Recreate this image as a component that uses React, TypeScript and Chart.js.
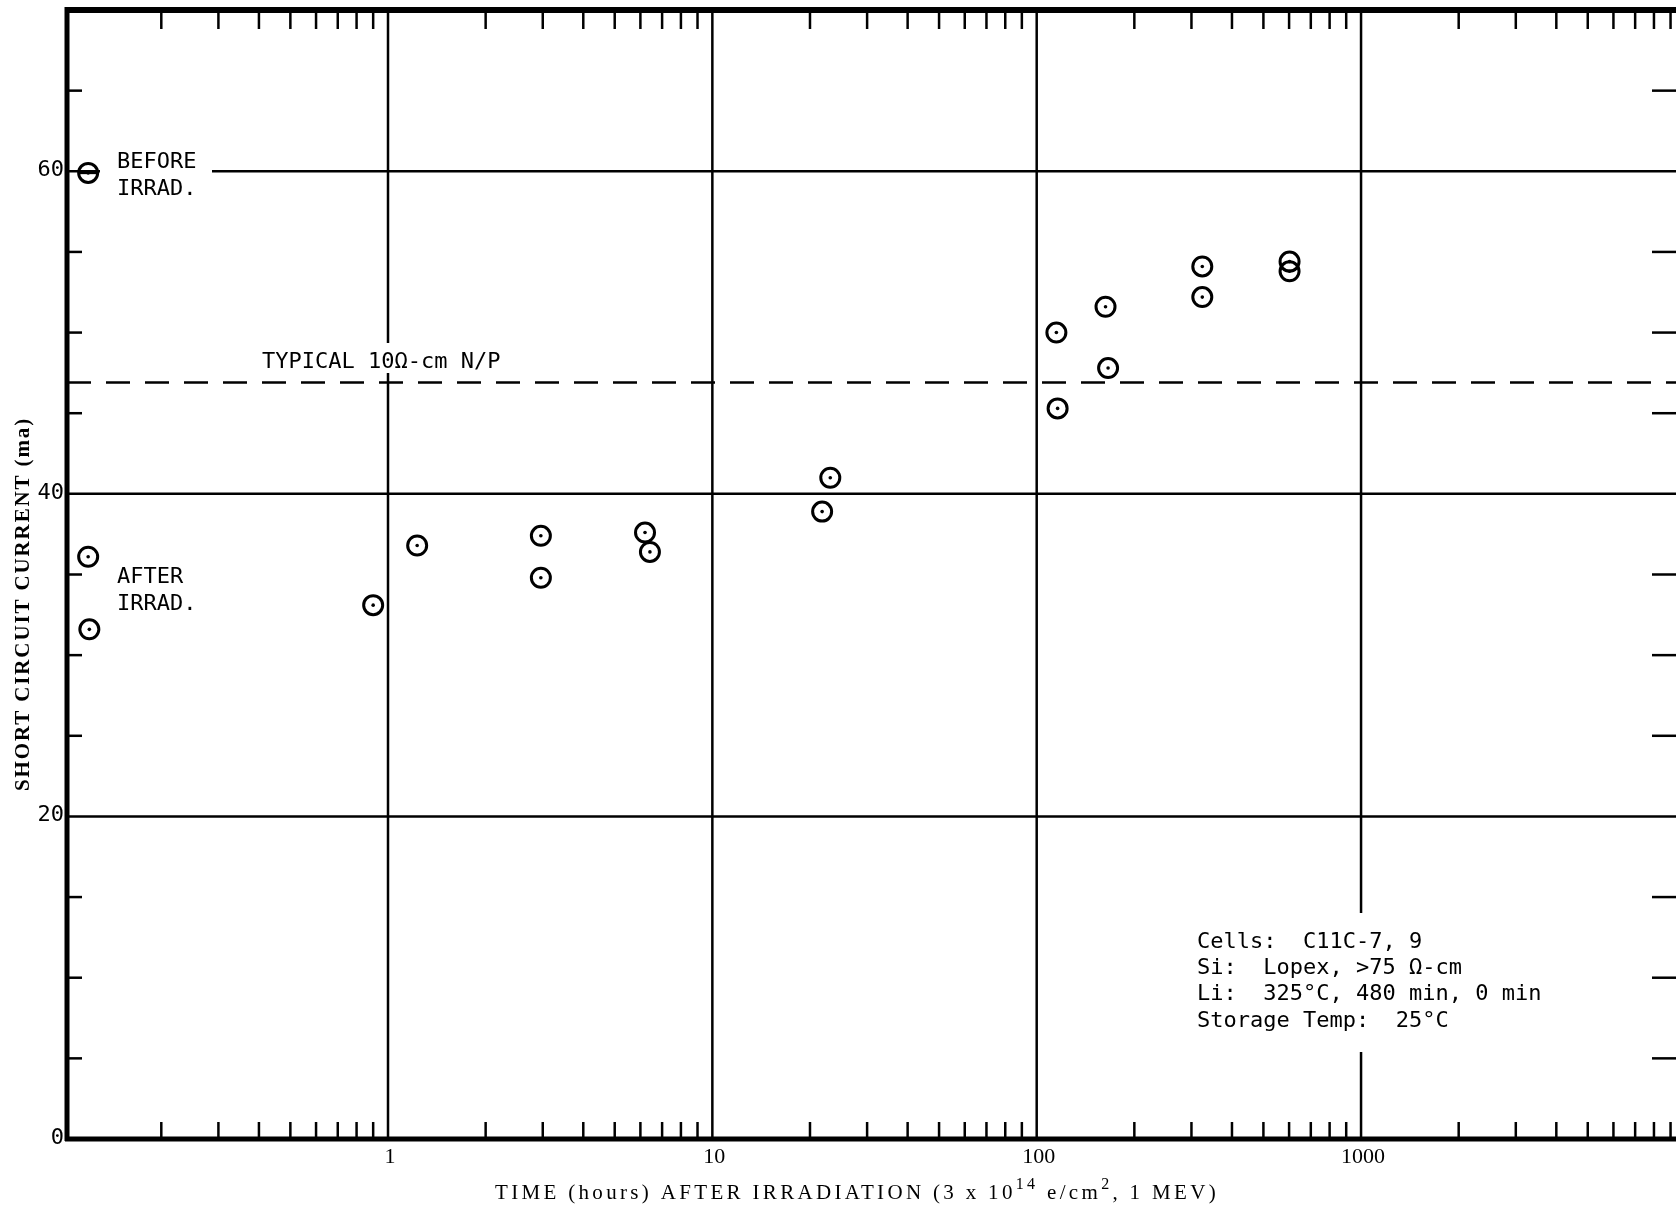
import React, { useEffect, useRef } from 'react';
import { Chart, registerables } from 'chart.js';

Chart.register(...registerables);

const W = 1676;
const H = 1211;

// ---- data ----
const beforeTime = [0.119];
const beforeCurrent = [59.9];
const afterTime = [0.119, 0.12, 0.9, 1.23, 2.96, 2.96, 6.2, 6.42, 21.8, 23.1, 115, 116, 163, 166, 324, 324, 602, 602];
const afterCurrent = [36.1, 31.6, 33.1, 36.8, 37.4, 34.8, 37.6, 36.4, 38.9, 41.0, 50.0, 45.3, 51.6, 47.8, 54.1, 52.2, 54.4, 53.8];
const typicalCurrent = 46.9;

// ---- axes ----
const xMin = 0.1024;
const xMax = 9355;
const yMin = 0;
const yMax = 70;
const xTickValues = [1, 10, 100, 1000];
const xTickLabels = ['1', '10', '100', '1000'];
const decadeStarts = [0.1, 1, 10, 100, 1000];
const minorMultipliers = [2, 3, 4, 5, 6, 7, 8, 9];
const yTickValues = [0, 20, 40, 60];
const yTickLabels = ['0', '20', '40', '60'];
const yGridValues = [20, 40, 60];
const yMinorValues = [5, 10, 15, 25, 30, 35, 45, 50, 55, 65];

const yTitle = 'SHORT CIRCUIT CURRENT (ma)';
const xTitleParts: Array<[string, boolean]> = [
  ['TIME (hours) AFTER IRRADIATION (3 x 10', false],
  ['14', true],
  [' e/cm', false],
  ['2', true],
  [', 1 MEV)', false],
];
const beforeLabel = ['BEFORE', 'IRRAD.'];
const afterLabel = ['AFTER', 'IRRAD.'];
const typicalLabel = 'TYPICAL 10Ω-cm N/P';
const infoLines = ['Cells:  C11C-7, 9', 'Si:  Lopex, >75 Ω-cm', 'Li:  325°C, 480 min, 0 min', 'Storage Temp:  25°C'];

const MONO = '"DejaVu Sans Mono", monospace';
const SERIF = '"Liberation Serif", "DejaVu Serif", serif';

const decorPlugin = {
  id: 'decor',
  beforeDatasetsDraw(chart: any) {
    const { ctx, chartArea: a, scales } = chart;
    const x = scales.x;
    const y = scales.y;
    const line = (x1: number, y1: number, x2: number, y2: number) => {
      ctx.beginPath();
      ctx.moveTo(x1, y1);
      ctx.lineTo(x2, y2);
      ctx.stroke();
    };
    ctx.save();
    ctx.strokeStyle = '#000';
    ctx.fillStyle = '#000';
    ctx.lineCap = 'butt';

    // grid lines
    ctx.lineWidth = 2.5;
    yGridValues.forEach((v) => {
      const py = y.getPixelForValue(v);
      line(a.left, py, a.right, py);
    });
    xTickValues.forEach((v) => {
      const px = x.getPixelForValue(v);
      line(px, a.top, px, a.bottom);
    });

    // white boxes behind annotations
    ctx.fillStyle = '#fff';
    ctx.fillRect(100, 145, 112, 58);
    ctx.fillRect(255, 343, 255, 30);
    ctx.fillRect(1190, 913, 370, 139);

    // minor ticks
    ctx.lineWidth = 2.5;
    decadeStarts.forEach((d) => {
      minorMultipliers.forEach((m) => {
        const v = d * m;
        if (v > xMax || v < xMin) return;
        const px = x.getPixelForValue(v);
        line(px, a.top, px, a.top + 19);
        line(px, a.bottom, px, a.bottom - 17);
      });
    });
    yMinorValues.forEach((v) => {
      const py = y.getPixelForValue(v);
      line(a.left, py, a.left + 15, py);
      line(a.right - 24, py, a.right, py);
    });

    // frame
    ctx.lineWidth = 5;
    line(a.left, a.top - 3, a.left, a.bottom + 2);
    line(a.left - 2, a.bottom, a.right, a.bottom);
    ctx.lineWidth = 6;
    line(a.left - 2, a.top, a.right, a.top);

    ctx.fillStyle = '#000';

    // y tick labels
    ctx.font = `22px ${MONO}`;
    ctx.textAlign = 'right';
    ctx.textBaseline = 'middle';
    yTickValues.forEach((v, i) => {
      ctx.fillText(yTickLabels[i], a.left - 3, y.getPixelForValue(v) - 1);
    });

    // x tick labels
    ctx.font = `22px ${SERIF}`;
    ctx.textAlign = 'center';
    ctx.textBaseline = 'middle';
    xTickValues.forEach((v, i) => {
      ctx.fillText(xTickLabels[i], x.getPixelForValue(v) + 2, a.bottom + 18);
    });

    // annotations
    ctx.textAlign = 'left';
    ctx.textBaseline = 'alphabetic';
    ctx.font = `22px ${MONO}`;
    ctx.fillText(beforeLabel[0], 117, 168);
    ctx.fillText(beforeLabel[1], 117, 195);
    ctx.fillText(afterLabel[0], 117, 583);
    ctx.fillText(afterLabel[1], 117, 610);
    ctx.fillText(typicalLabel, 262, 368);
    const infoBaselines = [948, 974, 1000, 1027];
    infoLines.forEach((t, i) => ctx.fillText(t, 1197, infoBaselines[i]));

    // x title with superscripts, spread to typewriter width
    const big = `21px ${SERIF}`;
    const small = `16px ${SERIF}`;
    (ctx as any).letterSpacing = '0px';
    let natural = 0;
    let nChars = 0;
    xTitleParts.forEach(([t, sup]) => {
      ctx.font = sup ? small : big;
      natural += ctx.measureText(t).width;
      nChars += t.length;
    });
    const targetW = 724;
    const ls = (targetW - natural) / nChars;
    (ctx as any).letterSpacing = `${ls}px`;
    let cx = 857 - targetW / 2;
    const base = 1199;
    xTitleParts.forEach(([t, sup]) => {
      ctx.font = sup ? small : big;
      ctx.fillText(t, cx, sup ? base - 10 : base);
      cx += ctx.measureText(t).width;
    });

    // y title
    ctx.save();
    ctx.translate(24, 604);
    ctx.rotate(-Math.PI / 2);
    ctx.font = `bold 21px ${SERIF}`;
    (ctx as any).letterSpacing = '0px';
    const yw = ctx.measureText(yTitle).width;
    (ctx as any).letterSpacing = `${(374 - yw) / yTitle.length}px`;
    ctx.textAlign = 'left';
    ctx.textBaseline = 'middle';
    ctx.fillText(yTitle, -187, 0);
    ctx.restore();
    (ctx as any).letterSpacing = '0px';

    ctx.restore();
  },
};

export default function App() {
  const canvasRef = useRef<HTMLCanvasElement | null>(null);

  useEffect(() => {
    const canvas = canvasRef.current;
    if (!canvas) return;
    const toPts = (xs: number[], ys: number[]) => xs.map((v, i) => ({ x: v, y: ys[i] }));
    const chart = new Chart(canvas, {
      type: 'scatter',
      data: {
        datasets: [
          {
            label: 'Typical',
            type: 'line',
            data: [
              { x: xMin, y: typicalCurrent },
              { x: xMax, y: typicalCurrent },
            ],
            borderColor: '#000',
            borderWidth: 2.5,
            borderDash: [24, 15],
            pointRadius: 0,
            fill: false,
          } as any,
          {
            label: 'Before',
            data: toPts(beforeTime, beforeCurrent),
            pointStyle: 'circle',
            pointRadius: 9.5,
            borderWidth: 3,
            borderColor: '#000',
            backgroundColor: 'rgba(0,0,0,0)',
          },
          {
            label: 'Before bar',
            data: toPts(beforeTime, beforeCurrent),
            pointStyle: 'line',
            pointRadius: 9.5,
            borderWidth: 2.5,
            borderColor: '#000',
            backgroundColor: '#000',
          },
          {
            label: 'After',
            data: toPts(afterTime, afterCurrent),
            pointStyle: 'circle',
            pointRadius: 9.5,
            borderWidth: 3,
            borderColor: '#000',
            backgroundColor: 'rgba(0,0,0,0)',
          },
          {
            label: 'Dots',
            data: toPts(beforeTime.concat(afterTime), beforeCurrent.concat(afterCurrent)),
            pointStyle: 'circle',
            pointRadius: 1.8,
            borderWidth: 0,
            backgroundColor: '#000',
          },
        ],
      },
      options: {
        responsive: false,
        animation: false,
        devicePixelRatio: 1,
        layout: { autoPadding: false, padding: { top: 10, right: 0, left: 0, bottom: 0 } },
        plugins: {
          legend: { display: false },
          tooltip: { enabled: false },
          title: { display: false },
        },
        scales: {
          x: {
            type: 'logarithmic',
            min: xMin,
            max: xMax,
            grid: { display: false, drawTicks: false },
            border: { display: false },
            ticks: { display: false },
            afterFit: (scale: any) => {
              scale.height = H - 1139;
              scale.paddingLeft = 0;
              scale.paddingRight = 0;
            },
          },
          y: {
            type: 'linear',
            min: yMin,
            max: yMax,
            grid: { display: false, drawTicks: false },
            border: { display: false },
            ticks: { display: false },
            afterFit: (scale: any) => {
              scale.width = 67;
              scale.paddingTop = 0;
              scale.paddingBottom = 0;
            },
          },
        },
      },
      plugins: [decorPlugin],
    });
    return () => chart.destroy();
  }, []);

  return (
    <div style={{ position: 'absolute', left: 0, top: 0, width: W, height: H, background: '#fff', overflow: 'hidden' }}>
      <canvas ref={canvasRef} width={W} height={H} style={{ display: 'block', width: W, height: H }} />
    </div>
  );
}
